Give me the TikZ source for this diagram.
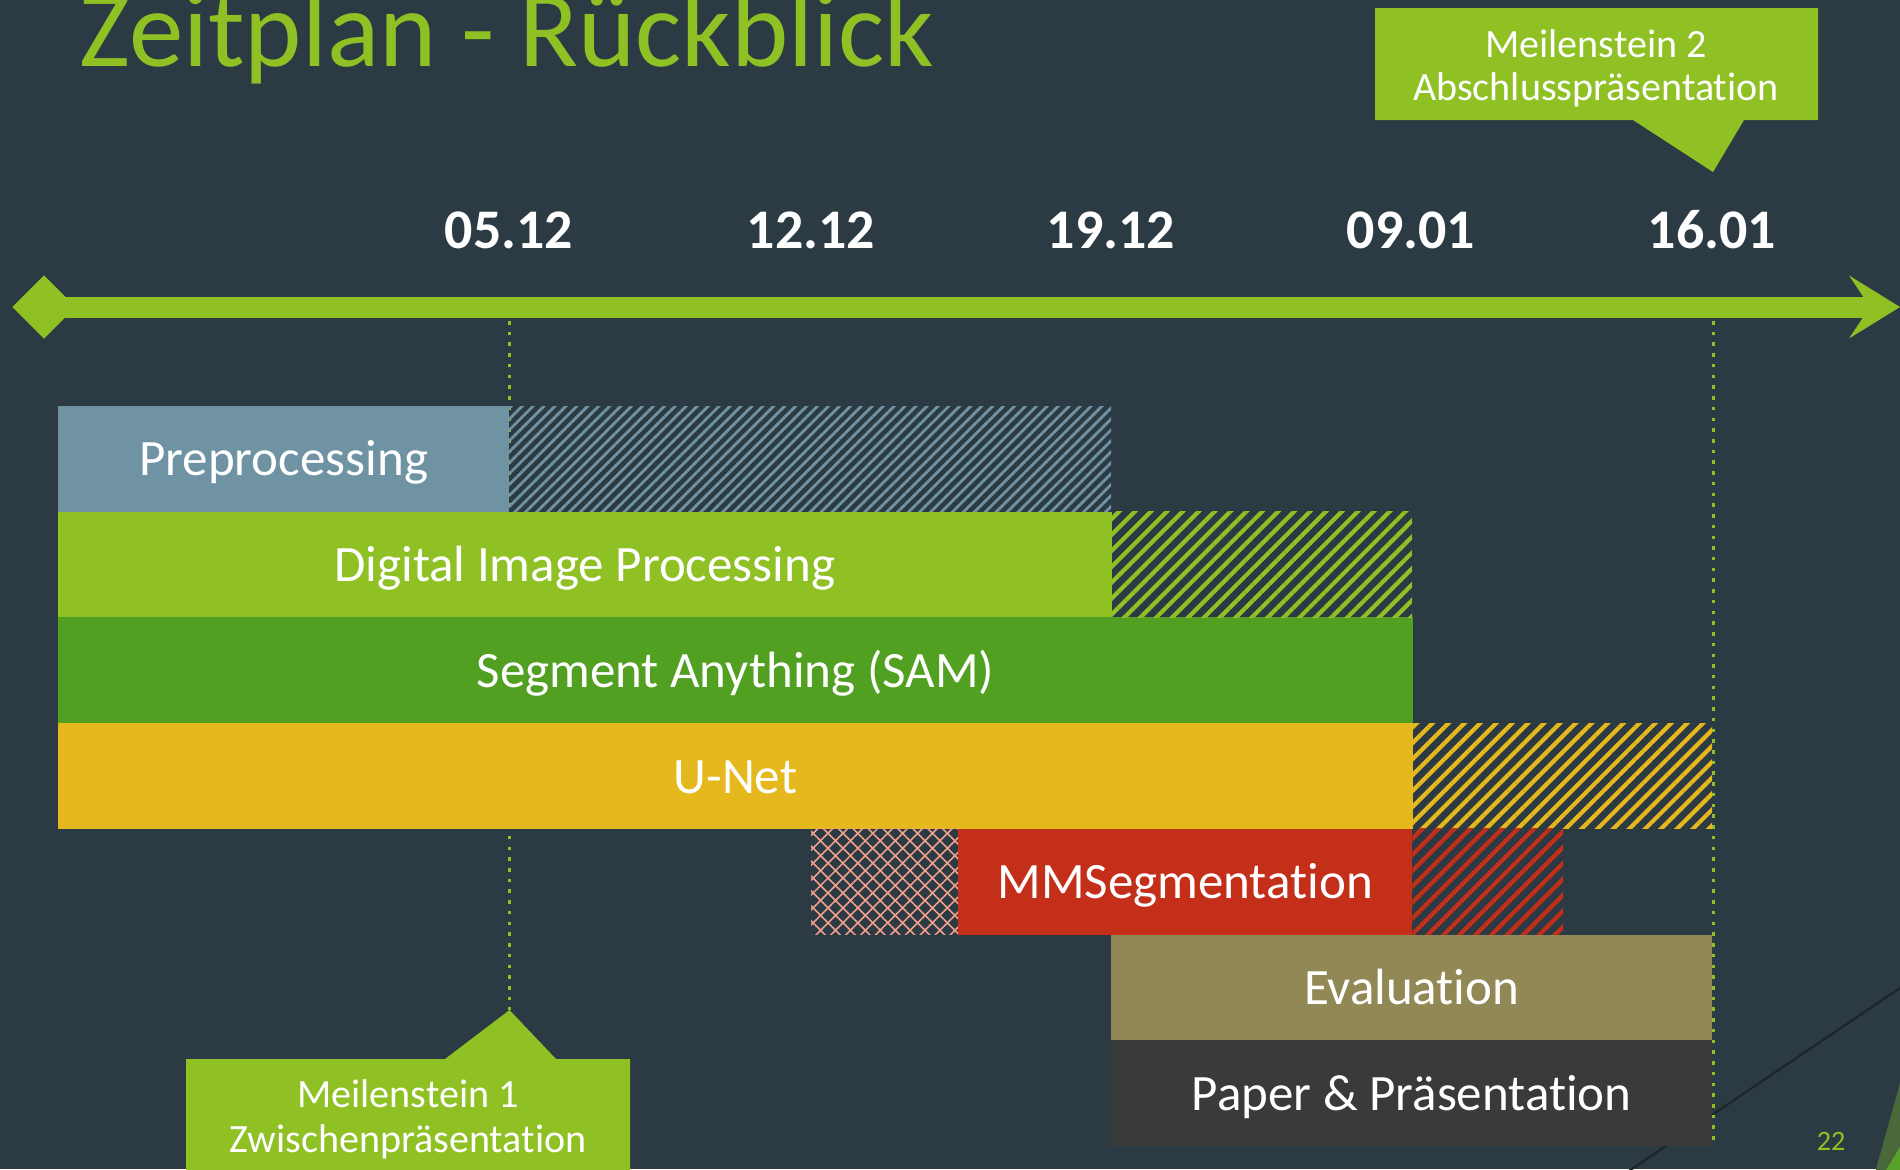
\documentclass[tikz,border=0pt]{standalone}
\usepackage{fontspec}
\setmainfont{Carlito}[Ligatures=NoCommon]
\usepackage{tikz}
\usetikzlibrary{shapes.geometric,patterns.meta}

\definecolor{hgrund}{HTML}{2C3A43}
\definecolor{mgruen}{HTML}{8FC125}
\definecolor{preblau}{HTML}{7093A4}
\definecolor{samgruen}{HTML}{52A022}
\definecolor{unetgelb}{HTML}{E5B91E}
\definecolor{mmrot}{HTML}{C42F1A}
\definecolor{evaloliv}{HTML}{918856}
\definecolor{papergrau}{HTML}{3A3A3A}
\definecolor{kreuzrosa}{HTML}{F2A08E}
\definecolor{dlinie}{HTML}{1E2428}
\definecolor{ecke1}{HTML}{4A693A}
\definecolor{ecke2}{HTML}{58A22A}

\tikzset{
  balken/.style={anchor=north west, inner sep=0pt, outer sep=0pt, minimum height=1.057cm,
    text height=0.45cm, text depth=0.11cm, text=white, font=\fontsize{14.5}{17}\selectfont},
  datum/.style={anchor=base, inner sep=0pt, text=white, font=\fontsize{15.9}{18}\selectfont\bfseries},
  meilen/.style={anchor=base, inner sep=0pt, text=white, font=\fontsize{11.4}{13}\selectfont},
  schraffur/.style={pattern={Lines[angle=45,distance=3.2pt,line width=1.2pt]}},
  feinschraffur/.style={pattern={Lines[angle=45,distance=2.2pt,line width=0.8pt]}},
  kreuz/.style={pattern={Hatch[angle=45,distance=3pt,line width=0.45pt]}, pattern color=kreuzrosa},
  punkte/.style={draw=mgruen, line width=1pt, dash pattern=on 1pt off 2.05pt}
}

\begin{document}
\begin{tikzpicture}[x=0.01cm, y=-0.01cm]

\useasboundingbox (0,0) rectangle (1900,1169);
\fill[hgrund] (0,0) rectangle (1900,1169);

% Titel
\node[anchor=base west, inner sep=0pt, text=mgruen, font=\fontsize{31}{34}\selectfont] (titel) at (79,66) {Zeitplan - Rückblick};

% Hintergrundlinie unten rechts
\draw[dlinie, line width=0.6pt] (1900,988) -- (1620,1177);

% Meilensteine (gepunktet)
\coordinate (tip1) at (509.5,1010);
\coordinate (tip2) at (1713,172);
\coordinate (m1oben) at (509.5,321);
\coordinate (m2oben) at (1713.5,321);
\coordinate (m2unten) at (1713.5,1145);
\draw[punkte] (m1oben) -- (tip1);
\draw[punkte] (m2oben) -- (m2unten);

% Balken
\node[balken, fill=preblau, minimum width=4.51cm] (pre) at (58,406) {Preprocessing};
\node[balken, fill=mgruen, minimum width=10.53cm] (dip) at (58,511.7) {Digital Image Processing};
\node[balken, fill=samgruen, minimum width=13.54cm] (sam) at (58,617.4) {Segment Anything (SAM)};
\node[balken, fill=unetgelb, minimum width=13.54cm] (unet) at (58,723.1) {U-Net};
\node[balken, fill=mmrot, minimum width=4.54cm] (mmseg) at (958,828.8) {MMSegmentation};
\node[balken, fill=evaloliv, minimum width=6.01cm] (eval) at (1111,934.5) {Evaluation};
\node[balken, fill=papergrau, minimum width=6.01cm] (paper) at (1111,1040.2) {Paper \& Präsentation};

% Verzug (schraffiert)
\path[feinschraffur, pattern color=preblau] (pre.north east) rectangle (1111,511.7);
\path[schraffur, pattern color=mgruen] (dip.north east) rectangle (1412,617.4);
\path[schraffur, pattern color=unetgelb] (unet.north east) rectangle (1712,828.8);
\path[schraffur, pattern color=mmrot] (mmseg.north east) rectangle (1563,934.5);
\path[kreuz] (811,828.8) rectangle (mmseg.south west);

% Zeitachse
\node[diamond, fill=mgruen, inner sep=0pt, minimum width=0.64cm, minimum height=0.64cm] (start) at (44,307) {};
\coordinate (ende) at (1900,307);
\draw[mgruen, line width=0.21cm] (start.center) -- (1866,307);
\fill[mgruen] (1849,275.5) -- (ende) -- (1849,338.5) -- (1863,317.5) -- (1863,296.5) -- cycle;

% Daten
\node[datum] (d0512) at (509,248) {05.12};
\node[datum] (d1212) at (811,248) {12.12};
\node[datum] (d1912) at (1111,248) {19.12};
\node[datum] (d0901) at (1411,248) {09.01};
\node[datum] (d1601) at (1712,248) {16.01};

% Meilenstein 2
\fill[mgruen] (1375,8) -- (1818,8) -- (1818,120) -- (1744,120) -- (tip2) -- (1633,120) -- (1375,120) -- cycle;
\node[meilen] (ms2a) at (1596,57) {Meilenstein 2};
\node[meilen] (ms2b) at (1596,100) {Abschlusspräsentation};

% Meilenstein 1
\fill[mgruen] (186,1180) -- (186,1059) -- (445,1059) -- (tip1) -- (556,1059) -- (630,1059) -- (630,1180) -- cycle;
\node[meilen] (ms1a) at (408,1107) {Meilenstein 1};
\node[meilen] (ms1b) at (408,1152) {Zwischenpräsentation};

% Ecke unten rechts
\fill[ecke1] (1900,1083) -- (1873,1180) -- (1900,1180) -- cycle;
\fill[ecke2] (1900,1147) -- (1880,1180) -- (1900,1180) -- cycle;
\node[anchor=base, inner sep=0pt, text=mgruen, font=\fontsize{8}{9}\selectfont] (seite) at (1831,1150) {22};

\end{tikzpicture}
\end{document}
